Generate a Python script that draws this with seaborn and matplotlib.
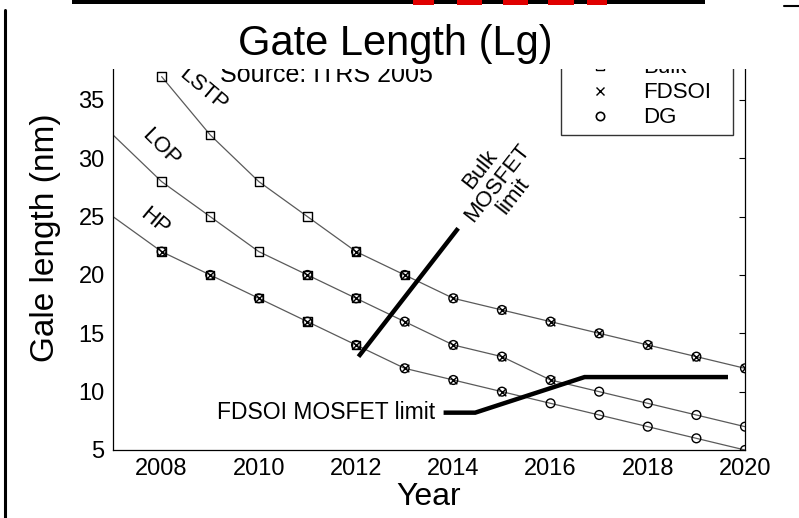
import numpy as np
import pandas as pd
import matplotlib
matplotlib.use("Agg")
import matplotlib.pyplot as plt
from matplotlib.lines import Line2D
from matplotlib.patches import Rectangle
import seaborn as sns

# ---------------- data ----------------
years = [2007, 2008, 2009, 2010, 2011, 2012, 2013, 2014, 2015, 2016, 2017, 2018, 2019, 2020]
lstp = [np.nan, 37, 32, 28, 25, 22, 20, 18, 17, 16, 15, 14, 13, 12]
lop = [32, 28, 25, 22, 20, 18, 16, 14, 13, 11, 10, 9, 8, 7]
hp = [25, 22, 20, 18, 16, 14, 12, 11, 10, 9, 8, 7, 6, 5]
# technology markers per point: B = Bulk, F = FDSOI, D = DG
lstp_tech = ["", "B", "B", "B", "B", "BFD", "BFD", "FD", "FD", "FD", "FD", "FD", "FD", "FD"]
lop_tech = ["", "B", "B", "B", "BFD", "BFD", "FD", "FD", "FD", "FD", "D", "D", "D", "D"]
hp_tech = ["", "BFD", "BFD", "BFD", "BFD", "BFD", "FD", "FD", "FD", "D", "D", "D", "D", "D"]
series_names = ["LSTP", "LOP", "HP"]
legend_labels = ["Bulk", "FDSOI", "DG"]
x_ticks = [2008, 2010, 2012, 2014, 2016, 2018, 2020]
y_ticks = [5, 10, 15, 20, 25, 30, 35]
bulk_limit_x = [2012.05, 2014.1]
bulk_limit_y = [13.0, 24.0]
fdsoi_limit_x = [2013.8, 2014.45, 2016.7, 2019.65]
fdsoi_limit_y = [8.2, 8.2, 11.25, 11.25]

rows = []
for name, vals, techs in zip(series_names, [lstp, lop, hp], [lstp_tech, lop_tech, hp_tech]):
    for y, v, t in zip(years, vals, techs):
        rows.append({"year": y, "length": v, "node": name, "tech": t})
df = pd.DataFrame(rows)

# ---------------- style ----------------
sns.set_style("white")
plt.rcParams["font.family"] = ["Liberation Sans", "DejaVu Sans"]
plt.rcParams["text.color"] = "black"
plt.rcParams["axes.labelcolor"] = "black"

W, H = 799, 518
fig = plt.figure(figsize=(W / 100, H / 100), dpi=100)
ax_l, ax_r, ax_b, ax_t = 113, 745, 450, 41.6
ax = fig.add_axes([ax_l / W, 1 - ax_b / H, (ax_r - ax_l) / W, (ax_b - ax_t) / H])

sns.lineplot(data=df.dropna(), x="year", y="length", units="node", estimator=None,
             color="#5a5a5a", lw=0.9, ax=ax, legend=False, sort=True)

marker_map = {"B": "s", "D": "o", "F": "x"}
for code, mk in marker_map.items():
    sub = df[df["tech"].str.contains(code)]
    if mk == "x":
        sns.scatterplot(data=sub, x="year", y="length", marker=mk, s=30, color="black",
                        linewidth=1.0, ax=ax, legend=False, zorder=4)
    else:
        sns.scatterplot(data=sub, x="year", y="length", marker=mk, s=36 if mk == "s" else 40,
                        facecolor="none", edgecolor="black", linewidth=1.0, ax=ax,
                        legend=False, zorder=4)

# limit lines
ax.plot(bulk_limit_x, bulk_limit_y, color="black", lw=3.2, solid_capstyle="butt", zorder=5)
ax.plot(fdsoi_limit_x, fdsoi_limit_y, color="black", lw=3.2, solid_capstyle="butt",
        solid_joinstyle="miter", zorder=5)

ax.set_xlim(2007, 2020)
ax.set_ylim(5, 40)
ax.set_xticks(x_ticks)
ax.set_yticks(y_ticks)
ax.tick_params(direction="in", length=4, width=0.8, labelsize=17, top=True, right=True,
               colors="black", labelcolor="black", pad=6)
for sp in ax.spines.values():
    sp.set_color("black")
    sp.set_linewidth(0.9)
ax.set_xlabel("Year", fontsize=23, labelpad=1)
ax.set_ylabel("Gale length (nm)", fontsize=24)
ax.yaxis.set_label_coords(-0.082, 0.52)

# annotations
ax.text(2008.86, 35.85, "LSTP", rotation=-40, fontsize=16, ha="center", va="center",
        rotation_mode="anchor")
ax.text(2007.98, 30.9, "LOP", rotation=-45, fontsize=16, ha="center", va="center",
        rotation_mode="anchor")
ax.text(2007.85, 24.6, "HP", rotation=-40, fontsize=16, ha="center", va="center",
        rotation_mode="anchor")
ax.text(2014.9, 27.9, "Bulk\nMOSFET\nlimit", rotation=52, fontsize=16, ha="center",
        va="center", multialignment="center", rotation_mode="anchor", linespacing=1.0)
ax.text(2013.63, 8.2, "FDSOI MOSFET limit", fontsize=16.5, ha="right", va="center")
ax.text(2009.2, 36.5, "Source: ITRS 2005", fontsize=18, ha="left", va="baseline")

# legend
handles = [
    Line2D([], [], marker="s", ls="none", mfc="none", mec="black", ms=5.5, mew=1),
    Line2D([], [], marker="x", ls="none", color="black", ms=5.5, mew=1),
    Line2D([], [], marker="o", ls="none", mfc="none", mec="black", ms=6, mew=1.2),
]
x0 = (561 - ax_l) / (ax_r - ax_l)
y0 = (ax_b - 135) / (ax_b - ax_t)
wl = (733 - 561) / (ax_r - ax_l)
leg = ax.legend(handles, legend_labels, loc="lower left", bbox_to_anchor=(x0, y0, wl, 0.1),
                mode="expand", fontsize=16, frameon=True, fancybox=False, borderpad=0.3,
                handlelength=2.9, handletextpad=0.5, labelspacing=0.18, borderaxespad=0)
leg.get_frame().set_edgecolor("black")
leg.get_frame().set_linewidth(1.0)
leg.set_zorder(6)

# white band covering the top (slide title area)
fig.add_artist(Rectangle((15 / W, 1 - 69 / H), 770 / W, 63 / H, transform=fig.transFigure,
                         facecolor="white", edgecolor="none", zorder=20))
fig.text(395 / W, 1 - 44 / H, "Gate Length (Lg)", fontsize=30, ha="center", va="center",
         zorder=21)

# slide decorations
fig.add_artist(Rectangle((72 / W, 1 - 4 / H), (705 - 72) / W, 4 / H, transform=fig.transFigure,
                         facecolor="black", edgecolor="none", zorder=22))
for xa, xb in [(413, 434), (457, 482), (503, 528), (548, 574), (587, 607)]:
    fig.add_artist(Rectangle((xa / W, 1 - 5 / H), (xb - xa) / W, 5 / H,
                             transform=fig.transFigure, facecolor="#e00000",
                             edgecolor="none", zorder=23))
fig.add_artist(Line2D([5 / W, 5 / W], [0, 1 - 10 / H], transform=fig.transFigure,
                      color="black", lw=2.2, zorder=22))
fig.add_artist(Line2D([784 / W, 799 / W], [1 - 6 / H, 1 - 6 / H], transform=fig.transFigure,
                      color="black", lw=1.5, zorder=22))

fig.savefig("out.png", dpi=100, facecolor="white")
